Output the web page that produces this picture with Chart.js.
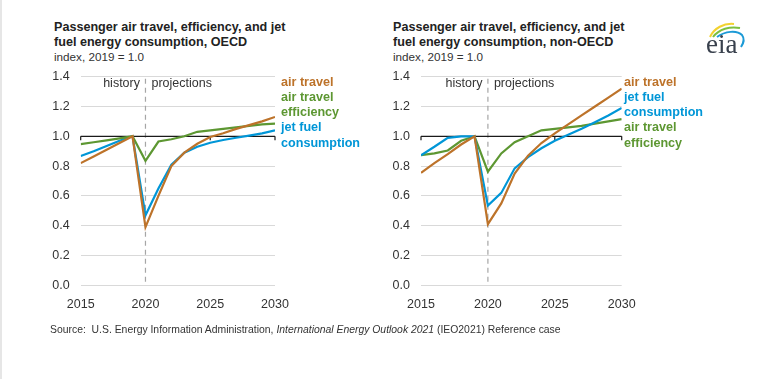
<!DOCTYPE html>
<html>
<head>
<meta charset="utf-8">
<script src="https://cdn.jsdelivr.net/npm/chart.js@4.4.1/dist/chart.umd.min.js"></script>
<style>
  html, body { margin: 0; padding: 0; background: #fff; }
  body { width: 768px; height: 379px; position: relative; overflow: hidden; font-family: "Liberation Sans", Arial, sans-serif; color: #222; }
  .border { position: absolute; left: 0; top: 0; width: 2px; height: 379px; background: #e6e6e6; }
  .title { position: absolute; font-weight: bold; font-size: 12.6px; line-height: 14.7px; color: #222; white-space: nowrap; }
  .sub { position: absolute; font-size: 11.7px; line-height: 14px; color: #333; white-space: nowrap; }
  .leg { position: absolute; font-weight: bold; font-size: 12.6px; line-height: 15.2px; white-space: nowrap; }
  .box { position: absolute; top: 0; width: 384px; height: 379px; }
  .source { position: absolute; left: 50px; top: 323px; font-size: 10.4px; line-height: 13px; color: #333; white-space: nowrap; }
  .logo { position: absolute; left: 700px; top: 14px; width: 50px; height: 44px; }
  .logo .txt { position: absolute; left: 6px; top: 17px; font-family: "Liberation Serif", "DejaVu Serif", serif; font-size: 27px; line-height: 27px; color: #39414d; }
</style>
</head>
<body>
<div class="border"></div>

<div class="title" style="left:54px; top:20.3px;">Passenger air travel, efficiency, and jet<br>fuel energy consumption, OECD</div>
<div class="sub" style="left:54px; top:49.6px;">index, 2019 = 1.0</div>

<div class="title" style="left:393px; top:20.3px;">Passenger air travel, efficiency, and jet<br>fuel energy consumption, non-OECD</div>
<div class="sub" style="left:393px; top:49.6px;">index, 2019 = 1.0</div>

<div class="box" style="left:0;"><canvas id="c1"></canvas></div>
<div class="box" style="left:384px;"><canvas id="c2"></canvas></div>

<div class="leg" style="left:281px; top:74.7px;">
  <div style="color:#bd732a">air travel</div>
  <div style="color:#5d9732">air travel</div>
  <div style="color:#5d9732">efficiency</div>
  <div style="color:#0096d7">jet fuel</div>
  <div style="color:#0096d7">consumption</div>
</div>
<div class="leg" style="left:624px; top:74.7px;">
  <div style="color:#bd732a">air travel</div>
  <div style="color:#0096d7">jet fuel</div>
  <div style="color:#0096d7">consumption</div>
  <div style="color:#5d9732">air travel</div>
  <div style="color:#5d9732">efficiency</div>
</div>

<div class="source">Source:&nbsp; U.S. Energy Information Administration, <i>International Energy Outlook 2021</i> (IEO2021) Reference case</div>

<div class="logo">
  <svg width="50" height="34" viewBox="0 0 50 34" style="position:absolute;left:0;top:0;">
    <path d="M10 23 C 14 14, 24 9, 34 10" stroke="#f2d230" stroke-width="2" fill="none"/>
    <path d="M13 23 C 19 15, 30 12, 40 14" stroke="#7cbf3f" stroke-width="2" fill="none"/>
    <path d="M17 23 C 25 17, 37 16, 42 21 C 45 25, 43 30, 41 33" stroke="#1c9ad6" stroke-width="2" fill="none"/>
  </svg>
  <div class="txt">eia</div>
</div>

<script>
const years = [2015, 2016, 2017, 2018, 2019, 2020, 2021, 2022, 2023, 2024, 2025, 2026, 2027, 2028, 2029, 2030];
const xTicks = [2015, 2020, 2025, 2030];
const yTicks = [0.0, 0.2, 0.4, 0.6, 0.8, 1.0, 1.2, 1.4];

// OECD
const oecdAirTravel  = [0.82, 0.865, 0.91, 0.955, 1.00, 0.39, 0.60, 0.80, 0.89, 0.95, 0.995, 1.02, 1.05, 1.075, 1.10, 1.13];
const oecdEfficiency = [0.948, 0.96, 0.973, 0.986, 1.00, 0.835, 0.965, 0.98, 1.00, 1.03, 1.04, 1.05, 1.06, 1.07, 1.08, 1.085];
const oecdJetFuel    = [0.868, 0.90, 0.935, 0.97, 1.00, 0.47, 0.65, 0.81, 0.89, 0.93, 0.957, 0.975, 0.99, 1.005, 1.02, 1.04];

// non-OECD
const nonAirTravel  = [0.755, 0.82, 0.88, 0.945, 1.00, 0.41, 0.55, 0.75, 0.87, 0.955, 1.02, 1.08, 1.14, 1.20, 1.26, 1.32];
const nonJetFuel    = [0.873, 0.93, 0.99, 1.00, 1.00, 0.535, 0.62, 0.785, 0.86, 0.92, 0.97, 1.01, 1.05, 1.095, 1.14, 1.19];
const nonEfficiency = [0.873, 0.885, 0.905, 0.97, 1.00, 0.762, 0.885, 0.96, 1.00, 1.04, 1.05, 1.06, 1.07, 1.085, 1.10, 1.115];

const C_ORANGE = '#bd732a', C_GREEN = '#5d9732', C_BLUE = '#0096d7';
const FONT = '"Liberation Sans", Arial, sans-serif';

function pts(arr) { return years.map((x, i) => ({ x: x, y: arr[i] })); }
function ds(arr, color) {
  return { data: pts(arr), borderColor: color, backgroundColor: color, borderWidth: 2.2, pointRadius: 0, tension: 0, fill: false };
}

const overlay = {
  id: 'overlay',
  beforeDatasetsDraw(chart) {
    const { ctx, chartArea, scales: { x, y } } = chart;
    ctx.save();
    const xd = x.getPixelForValue(2020);
    ctx.strokeStyle = '#a6a6a6';
    ctx.lineWidth = 1.2;
    ctx.setLineDash([5, 4]);
    ctx.beginPath();
    ctx.moveTo(xd, chartArea.top + 2);
    ctx.lineTo(xd, chartArea.bottom);
    ctx.stroke();
    ctx.setLineDash([]);
    const y1 = y.getPixelForValue(1.0);
    ctx.strokeStyle = '#1a1a1a';
    ctx.lineWidth = 1.2;
    ctx.beginPath();
    ctx.moveTo(chartArea.left, y1);
    ctx.lineTo(chartArea.right, y1);
    xTicks.forEach(t => {
      if (t === 2020) return;
      const px = x.getPixelForValue(t);
      ctx.moveTo(px, y1);
      ctx.lineTo(px, y1 + 4);
    });
    ctx.stroke();
    ctx.fillStyle = '#333';
    ctx.font = '12.5px ' + FONT;
    ctx.textBaseline = 'alphabetic';
    ctx.textAlign = 'right';
    ctx.fillText('history', xd - 5.5, chartArea.top + 10.6);
    ctx.textAlign = 'left';
    ctx.fillText('projections', xd + 6, chartArea.top + 10.6);
    ctx.restore();
  }
};

function makeChart(id, datasets, padLeft, padRight) {
  return new Chart(document.getElementById(id), {
    type: 'line',
    data: { datasets: datasets },
    options: {
      responsive: true,
      maintainAspectRatio: false,
      animation: false,
      events: [],
      layout: { padding: { left: padLeft, right: padRight, top: 76.7, bottom: 53.7 } },
      plugins: { legend: { display: false }, tooltip: { enabled: false }, title: { display: false } },
      scales: {
        x: {
          type: 'linear', min: 2015, max: 2030,
          afterBuildTicks(scale) { scale.ticks = xTicks.map(v => ({ value: v })); },
          afterFit(scale) { scale.height = 40; },
          grid: { display: false },
          border: { display: false },
          ticks: { color: '#333', font: { size: 12.5, family: FONT }, padding: 4, maxRotation: 0, autoSkip: false, callback: v => String(v) }
        },
        y: {
          min: 0, max: 1.4,
          afterBuildTicks(scale) { scale.ticks = yTicks.map(v => ({ value: v })); },
          afterFit(scale) { scale.width = 30; },
          grid: { color: '#d9d9d9', lineWidth: 1, drawTicks: false },
          border: { display: false },
          ticks: { color: '#333', font: { size: 12.5, family: FONT }, padding: 11, callback: v => Number(v).toFixed(1) }
        }
      }
    },
    plugins: [overlay]
  });
}

makeChart('c1', [ds(oecdAirTravel, C_ORANGE), ds(oecdEfficiency, C_GREEN), ds(oecdJetFuel, C_BLUE)], 50.7, 109);
makeChart('c2', [ds(nonAirTravel, C_ORANGE), ds(nonJetFuel, C_BLUE), ds(nonEfficiency, C_GREEN)], 7, 146.3);
</script>
</body>
</html>
